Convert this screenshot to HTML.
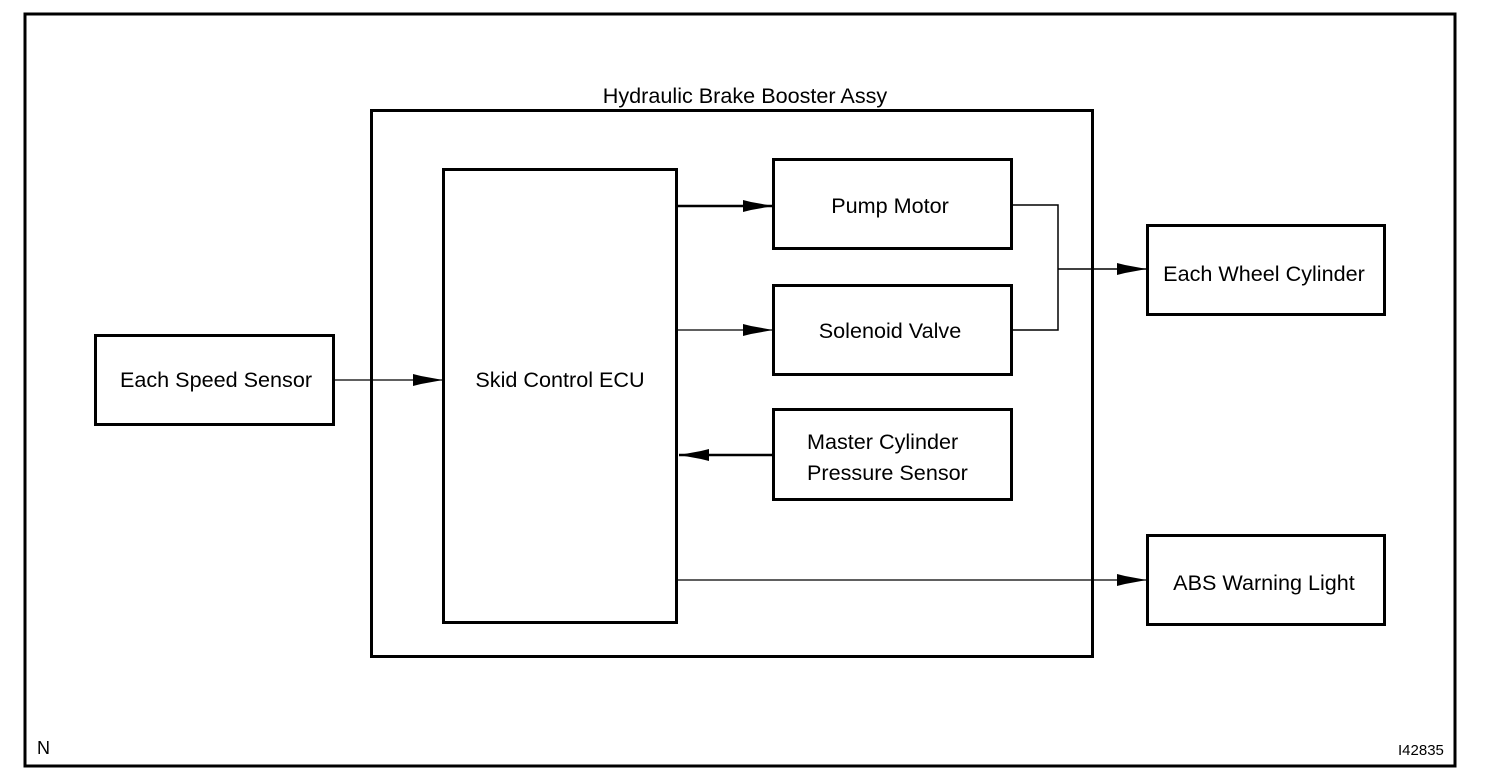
<!DOCTYPE html>
<html><head><style>
body{margin:0;background:#fff}
svg{display:block}
text{font-family:"Liberation Sans",Arial,sans-serif;font-size:21.6px;fill:#000}
</style></head><body>
<svg width="1504" height="784" viewBox="0 0 1504 784">
<defs>
<marker id="a" viewBox="0 0 30 12" refX="30" refY="6" markerWidth="30" markerHeight="12" markerUnits="userSpaceOnUse" orient="auto">
<path d="M0,0 L8,2 L30,6 L8,10 L0,12 Z" fill="#000"/>
</marker>
</defs>
<g fill="none" stroke="#000" stroke-width="3">
<rect x="25" y="14" width="1430" height="752"/>
<rect x="371.5" y="110.5" width="721" height="546"/>
<rect x="443.5" y="169.5" width="233" height="453"/>
<rect x="773.5" y="159.5" width="238" height="89"/>
<rect x="773.5" y="285.5" width="238" height="89"/>
<rect x="773.5" y="409.5" width="238" height="90"/>
<rect x="95.5" y="335.5" width="238" height="89"/>
<rect x="1147.5" y="225.5" width="237" height="89"/>
<rect x="1147.5" y="535.5" width="237" height="89"/>
</g>
<g fill="none" stroke="#000">
<line x1="678" y1="206" x2="773" y2="206" stroke-width="2.5" marker-end="url(#a)"/>
<line x1="678" y1="330" x2="773" y2="330" stroke-width="1.2" marker-end="url(#a)"/>
<line x1="334" y1="380" x2="443" y2="380" stroke-width="1.2" marker-end="url(#a)"/>
<line x1="773" y1="455" x2="679" y2="455" stroke-width="2.5" marker-end="url(#a)"/>
<line x1="678" y1="580" x2="1147" y2="580" stroke-width="1.2" marker-end="url(#a)"/>
<polyline points="1013,205 1058,205 1058,330 1013,330" stroke-width="1.5"/>
<line x1="1058" y1="269" x2="1147" y2="269" stroke-width="1.5" marker-end="url(#a)"/>
</g>
<text x="745" y="103" text-anchor="middle">Hydraulic Brake Booster Assy</text>
<text x="560" y="387" text-anchor="middle">Skid Control ECU</text>
<text x="890" y="213" text-anchor="middle">Pump Motor</text>
<text x="890" y="338" text-anchor="middle">Solenoid Valve</text>
<text x="807" y="449">Master Cylinder</text>
<text x="807" y="480">Pressure Sensor</text>
<text x="216" y="387" text-anchor="middle">Each Speed Sensor</text>
<text x="1264" y="281" text-anchor="middle">Each Wheel Cylinder</text>
<text x="1264" y="590" text-anchor="middle">ABS Warning Light</text>
<text x="37" y="754" style="font-size:18px">N</text>
<text x="1398" y="755" style="font-size:15px">I42835</text>
</svg>
</body></html>
